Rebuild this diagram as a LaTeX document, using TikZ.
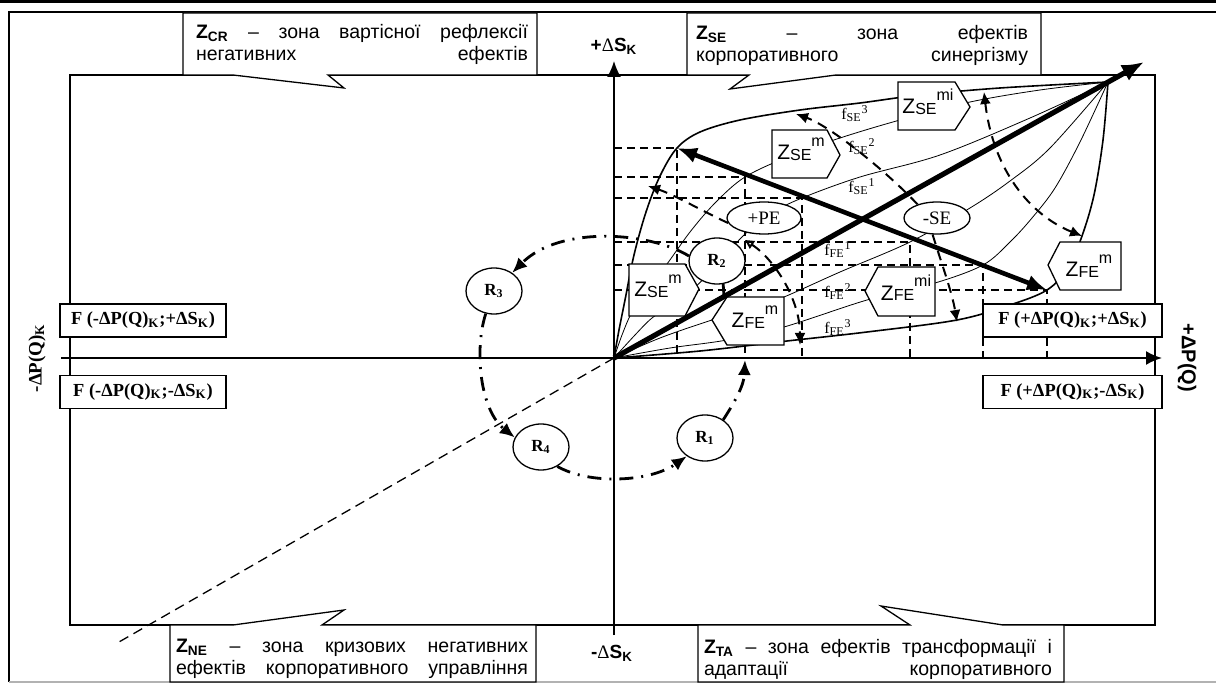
\documentclass[tikz,border=0pt]{standalone}
\usepackage{fontspec}
\setmainfont{Liberation Serif}
\newfontfamily\arial{Liberation Sans}
\usetikzlibrary{arrows.meta,shapes.geometric}
\newcommand{\jline}[2]{\hbox to #1{#2}}
\newcommand{\zlab}[2]{Z\raisebox{-0.5pt}{\fontsize{8}{8}\selectfont #1}\raisebox{6.5pt}{\fontsize{8}{8}\selectfont #2}}
\begin{document}
\begin{tikzpicture}[x=0.5pt,y=-0.5pt,
  frm/.style={line width=0.65pt},
  gridl/.style={line width=0.7pt, dash pattern=on 4pt off 2.5pt},
  thinc/.style={line width=0.4pt},
  envc/.style={line width=0.8pt},
  axisl/.style={line width=1pt, -{Latex[length=8pt,width=7pt]}},
  bigarrow/.style={line width=2.6pt, -{Latex[length=11pt,width=9pt]}},
  dbarrow/.style={line width=2.3pt, {Latex[length=10pt,width=8pt]}-{Latex[length=10pt,width=8pt]}},
  dsharrow/.style={line width=1pt, dash pattern=on 5pt off 3.5pt, -{Latex[length=6pt,width=5.5pt]}},
  loopl/.style={line width=1.4pt, dash pattern=on 7pt off 4pt on 1pt off 4pt},
  looparrow/.style={loopl, -{Latex[length=7.5pt,width=6.5pt]}},
  zbox/.style={draw, fill=white, line width=0.65pt},
  ztext/.style={font=\arial\fontsize{10.5}{12}\selectfont, inner sep=0pt},
  rnode/.style={ellipse, draw, fill=white, line width=0.65pt, minimum width=28pt, minimum height=23pt, inner sep=0pt, font=\bfseries\fontsize{8.5}{10}\selectfont},
  penode/.style={ellipse, draw, fill=white, line width=0.65pt, minimum height=16pt, inner sep=0pt, font=\fontsize{9.5}{10}\selectfont},
  fnode/.style={draw, fill=white, line width=0.65pt, inner sep=0pt, minimum height=16.5pt, font=\bfseries\fontsize{9.2}{10}\selectfont},
  flab/.style={font=\fontsize{8}{9}\selectfont, inner sep=0pt},
  callout/.style={draw, fill=white, line width=0.65pt},
  calltext/.style={font=\arial\fontsize{9.75}{11}\selectfont, inner sep=0pt, align=left},
  axlab/.style={font=\arial\bfseries\fontsize{9.5}{10}\selectfont, inner sep=0pt}
]
\useasboundingbox (0,0) rectangle (1216,684);
% top rule and outer frame
\draw[line width=1.5pt] (0,2) -- (1216,2);
\draw[frm] (1216,12) -- (9,12) -- (9,682);
\draw[frm, gray!60] (9,682) -- (1216,682);
% inner rectangle
\draw[frm] (70,75) rectangle (1155,625);

% key coordinates
\coordinate (O) at (614,358);
\coordinate (C) at (1108,82);
\coordinate (P) at (1144,62);
\coordinate (xs) at (61,358);
\coordinate (xe) at (1162,358);
\coordinate (ys) at (614,635);
\coordinate (ye) at (614,61);
\coordinate (dl) at (119,642);
\coordinate (p1) at (677,148);
\coordinate (p2) at (745,177);
\coordinate (p3) at (802,198);
\coordinate (p4) at (910,242);
\coordinate (p5) at (983,265);
\coordinate (p6) at (1047,290);

% axes
\draw[axisl] (xs) -- (xe);
\draw[axisl] (ys) -- (ye);
% dashed extension to lower left
\draw[line width=0.65pt, dash pattern=on 5pt off 3pt] (O) -- (dl);

% dashed grid
\foreach \p in {p1,p2,p3,p4,p5,p6}
  \draw[gridl] (O |- \p) -- (\p) -- (\p |- O);

% curves
\draw[envc] plot[smooth,tension=0.55] coordinates {(614,358) (619,330) (625,300) (634,255) (646,212) (660,176) (677,148) (700,132) (740,120) (800,110) (860,103) (920,95) (1000,88) (1108,82)};
\draw[thinc] plot[smooth,tension=0.55] coordinates {(614,358) (622,335) (632,312) (648,288) (667,264) (690,232) (715,203) (745,177) (790,156) (840,138) (900,120) (970,102) (1040,90) (1108,82)};
\draw[thinc] plot[smooth,tension=0.55] coordinates {(614,358) (635,335) (652,318) (672,305) (692,290) (712,270) (743,236) (770,214) (802,198) (860,177) (940,155) (1030,118) (1108,82)};
\draw[thinc] plot[smooth,tension=0.55] coordinates {(614,358) (660,338) (712,320) (750,309) (784,297) (840,272) (910,242) (970,208) (1010,181) (1050,148) (1108,82)};
\draw[thinc] plot[smooth,tension=0.55] coordinates {(614,358) (670,348) (727,340) (784,327) (867,300) (935,283) (983,265) (1010,242) (1032,218) (1055,188) (1080,142) (1108,82)};
\draw[envc] plot[smooth,tension=0.55] coordinates {(614,358) (700,351) (787,341) (867,332) (957,320) (1010,305) (1047,290) (1068,268) (1082,236) (1094,195) (1103,140) (1108,82)};

% pentagon boxes
\draw[zbox] (772,130) -- (827,130) -- (840,155) -- (827,178) -- (772,178) -- cycle;
\node[ztext, anchor=base] (zsem1) at (801,160) {\zlab{SE}{m}};
\draw[zbox] (898,82) -- (955,82) -- (970,107) -- (955,130) -- (898,130) -- cycle;
\node[ztext, anchor=base] (zsemi) at (928,114) {\zlab{SE}{mi}};
\draw[zbox] (629,264) -- (685,264) -- (699,289) -- (685,316) -- (629,316) -- cycle;
\node[ztext, anchor=base] (zsem2) at (658,297) {\zlab{SE}{m}};
\draw[zbox] (712,320) -- (727,297) -- (784,297) -- (784,345) -- (727,345) -- cycle;
\node[ztext, anchor=base] (zfem1) at (755,328) {\zlab{FE}{m}};
\draw[zbox] (865,291) -- (878,267) -- (935,267) -- (935,316) -- (878,316) -- cycle;
\node[ztext, anchor=base] (zfemi) at (906,300) {\zlab{FE}{mi}};
\draw[zbox] (1048,265) -- (1060,242) -- (1121,242) -- (1121,290) -- (1060,290) -- cycle;
\node[ztext, anchor=base] (zfem2) at (1089,277) {\zlab{FE}{m}};

% ellipses
\node[rnode] (R1) at (705,438) {R\textsubscript{1}};
\node[rnode] (R2) at (717,261) {R\textsubscript{2}};
\node[rnode] (R3) at (494,291) {R\textsubscript{3}};
\node[rnode] (R4) at (541,447) {R\textsubscript{4}};
\node[penode, minimum width=37pt] (pPE) at (764,218) {+PE};
\node[penode, minimum width=33pt] (mSE) at (937,218) {-SE};

% free ends of the arrows
\coordinate (a1) at (745,360);
\coordinate (ta) at (796,114);
\coordinate (tb1) at (984,92);
\coordinate (tb2) at (1082,236);
\coordinate (tc1) at (745,240);
\coordinate (tc2) at (800,345);
\coordinate (td) at (648,186);
\coordinate (te) at (957,322);
\coordinate (r2a) at (724,297);

% dash-dot cycle
\draw[looparrow] (R1.45) .. controls (736,400) and (744,385) .. (a1);
\draw[loopl] (r2a) -- (R2.-75);
\draw[looparrow] (R2.170) .. controls (650,232) and (560,225) .. (R3.45);
\draw[looparrow] (R3.250) .. controls (474,350) and (480,410) .. (R4.160);
\draw[looparrow] (R4.-50) .. controls (590,485) and (650,482) .. (R1.225);

% dashed arrows
\draw[dsharrow] (mSE.145) .. controls (885,170) and (830,126) .. (ta);
\draw[dsharrow, {Latex[length=6pt,width=5.5pt]}-{Latex[length=6pt,width=5.5pt]}] (tb1) .. controls (993,170) and (1030,215) .. (tb2);
\draw[dsharrow, {Triangle[open,length=4.5pt,width=4.5pt]}-{Latex[length=6pt,width=5.5pt]}] (tc1) .. controls (775,260) and (800,300) .. (tc2);
\draw[dsharrow] (pPE.188) .. controls (700,210) and (675,195) .. (td);
\draw[dsharrow] (mSE.255) .. controls (942,265) and (952,292) .. (te);

% F boxes
\node[fnode, minimum width=83pt] (Fmp) at (143,320.5) {F (-ΔP(Q)\textsubscript{K};+ΔS\textsubscript{K})};
\node[fnode, minimum width=83pt] (Fmm) at (143,392) {F (-ΔP(Q)\textsubscript{K};-ΔS\textsubscript{K})};
\node[fnode, minimum width=89.5pt] (Fpp) at (1072.5,320.5) {F (+ΔP(Q)\textsubscript{K};+ΔS\textsubscript{K})};
\node[fnode, minimum width=89.5pt] (Fpm) at (1072.5,392) {F (+ΔP(Q)\textsubscript{K};-ΔS\textsubscript{K})};

% callouts
\draw[callout] (183,13) -- (537,13) -- (537,75) -- (328,75) -- (344,88) -- (233,75) -- (183,75) -- cycle;
\node[calltext] (tCR) at (362,44) {\jline{166pt}{\textbf{Z\textsubscript{CR}}\hfill–\hfill зона\hfill вартісної\hfill рефлексії}\\\jline{166pt}{негативних\hfill ефектів}};
\draw[callout] (687,13) -- (1041,13) -- (1041,75) -- (836,75) -- (730,89) -- (749,75) -- (687,75) -- cycle;
\node[calltext] (tSE) at (862,45) {\jline{166pt}{\textbf{Z\textsubscript{SE}}\hfill–\hfill зона\hfill ефектів}\\\jline{166pt}{корпоративного\hfill синергізму}};
\draw[callout] (170,625) -- (233,625) -- (344,610) -- (322,625) -- (536,625) -- (536,682) -- (170,682) -- cycle;
\node[calltext] (tNE) at (352,659) {\jline{176pt}{\textbf{Z\textsubscript{NE}}\hfill–\hfill зона\hfill кризових\hfill негативних}\\\jline{176pt}{ефектів\hfill корпоративного\hfill управління}};
\draw[callout] (698,625) -- (910,625) -- (881,606) -- (1003,625) -- (1064,625) -- (1064,682) -- (698,682) -- cycle;
\node[calltext] (tTA) at (878,659) {\jline{174pt}{\textbf{Z\textsubscript{TA}}\hfill–\hfill зона\hfill ефектів\hfill трансформації\hfill і}\\\jline{174pt}{адаптації\hfill корпоративного}};

% thick arrows
\draw[bigarrow] (O) -- (P);
\draw[dbarrow] (p1) -- (p6);

% curve labels
\node[flab] (fse3) at (855,114) {f\textsubscript{SE}\textsuperscript{3}};
\node[flab] (fse2) at (862,147) {f\textsubscript{SE}\textsuperscript{2}};
\node[flab] (fse1) at (862,187) {f\textsubscript{SE}\textsuperscript{1}};
\node[flab] (ffe1) at (838,250) {f\textsubscript{FE}\textsuperscript{1}};
\node[flab] (ffe2) at (838,292) {f\textsubscript{FE}\textsuperscript{2}};
\node[flab] (ffe3) at (838,328) {f\textsubscript{FE}\textsuperscript{3}};

% axis labels
\node[axlab] (lSp) at (614,46) {+{\rmfamily\mdseries Δ}S\textsubscript{K}};
\node[axlab] (lSm) at (612,653) {-{\rmfamily\mdseries Δ}S\textsubscript{K}};
\node[rotate=90, inner sep=0pt, font=\bfseries\fontsize{9.5}{10}\selectfont] (lPm) at (37,358) {-ΔP(Q)\textsubscript{K}};
\node[rotate=-90, inner sep=0pt, font=\arial\bfseries\fontsize{10}{10}\selectfont] (lPp) at (1187,358) {+ΔP(Q)};
\end{tikzpicture}
\end{document}
